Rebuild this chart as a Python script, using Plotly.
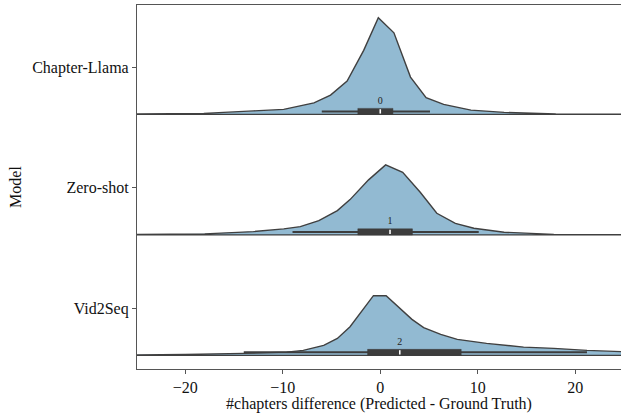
import plotly.graph_objects as go

# ---------------- data ----------------
models = ["Chapter-Llama", "Zero-shot", "Vid2Seq"]

# density curves: x = #chapters difference, y = density
cl_x = [-30, -25, -18.1, -13, -9.9, -6.8, -5.1, -3.4, -1.7, -0.2, 1.4, 3.1, 4.7, 6.5, 9.3, 12.7, 18, 25, 30]
cl_d = [0, 0.0003, 0.0017, 0.0058, 0.0083, 0.0193, 0.0322, 0.0555, 0.1067, 0.1610, 0.1360, 0.0622,
        0.0277, 0.0167, 0.0072, 0.0033, 0.0008, 0.0002, 0]

zs_x = [-30, -25, -18, -13, -9.9, -8.2, -6.3, -4.4, -3.1, -1.2, 0.55, 2.3, 4.1, 5.8, 7.7, 9.6, 12.7, 17.8, 25, 30]
zs_d = [0, 0.0003, 0.0017, 0.0055, 0.0100, 0.0138, 0.0238, 0.0405, 0.0588, 0.0917, 0.1167, 0.1043,
        0.0710, 0.0360, 0.0193, 0.0110, 0.0045, 0.0008, 0.0002, 0]

vs_x = [-30, -25, -20, -14, -9.6, -7.9, -5.8, -4.4, -3.1, -0.7, 0.6, 3.25, 4.45, 6.2, 7.9, 10.9, 14.7, 17.8, 21.2, 24.7, 30]
vs_d = [0, 0.0005, 0.0017, 0.0033, 0.0055, 0.0083, 0.0167, 0.0283, 0.0478, 0.0995, 0.0995, 0.0600,
        0.0462, 0.0350, 0.0267, 0.0200, 0.0138, 0.0117, 0.0083, 0.0062, 0.0025]

density_x = [cl_x, zs_x, vs_x]
density_y = [cl_d, zs_d, vs_d]

# box statistics
box_lower = [-6, -9, -14]
box_q1 = [-2.3, -2.3, -1.3]
box_median = [0, 1, 2]
box_q3 = [1.3, 3.3, 8.3]
box_upper = [5.1, 10.1, 21.2]

x_ticks = [-20, -10, 0, 10, 20]

# ---------------- styling ----------------
FILL = "#92BAD2"
EDGE = "#404040"
BOXC = "#3d3d3d"
FONT = "Liberation Serif"
SCALE = 4.98        # density -> y units
BASE_OFF = 0.393    # baseline below category tick
BOX_OFF = 0.025
BOX_W = 0.05
LABEL_OFF = 0.11

fig = go.Figure()

for i, name in enumerate(models):
    base = i + BASE_OFF
    xs = list(density_x[i])
    ys = [base - d * SCALE for d in density_y[i]]
    px = xs + xs[::-1]
    py = ys + [base] * len(xs)
    fig.add_trace(go.Scatter(
        x=px, y=py, mode="lines", fill="toself", fillcolor=FILL,
        line=dict(color=EDGE, width=1.4), hoverinfo="skip", showlegend=False))

for i, name in enumerate(models):
    c = i + BASE_OFF - BOX_OFF
    # whiskers
    fig.add_trace(go.Scatter(
        x=[box_lower[i], box_upper[i]], y=[c, c], mode="lines",
        line=dict(color=BOXC, width=2), showlegend=False, hoverinfo="skip"))
    # box (Q1..Q3)
    fig.add_trace(go.Scatter(
        x=[box_q1[i], box_q3[i], box_q3[i], box_q1[i], box_q1[i]],
        y=[c - BOX_W / 2, c - BOX_W / 2, c + BOX_W / 2, c + BOX_W / 2, c - BOX_W / 2],
        mode="lines", fill="toself", fillcolor=BOXC,
        line=dict(color=BOXC, width=0.5), showlegend=False, hoverinfo="skip"))
    # white median tick
    fig.add_trace(go.Scatter(
        x=[box_median[i], box_median[i]], y=[c - 0.018, c + 0.018],
        mode="lines", line=dict(color="white", width=1.6),
        showlegend=False, hoverinfo="skip"))
    # median label
    fig.add_trace(go.Scatter(
        x=[box_median[i]], y=[i + BASE_OFF - LABEL_OFF],
        mode="text", text=[str(box_median[i])],
        textfont=dict(family=FONT, size=10, color="#222"),
        textposition="middle center", showlegend=False, hoverinfo="skip"))

fig.update_layout(
    width=621, height=413,
    margin=dict(l=137, r=0, t=5, b=44),
    plot_bgcolor="white", paper_bgcolor="white",
    font=dict(family=FONT, size=16, color="#111"),
    showlegend=False,
)
fig.update_xaxes(
    range=[-24.95, 24.69], tickvals=x_ticks,
    ticks="outside", ticklen=4, tickcolor="#555", tickwidth=1,
    showline=True, linecolor="#555", linewidth=1.2, mirror=True,
    showgrid=False, zeroline=False,
    tickfont=dict(family=FONT, size=16, color="#111"),
    title=dict(text="#chapters difference (Predicted - Ground Truth)",
               font=dict(family=FONT, size=16, color="#111"), standoff=0),
)
fig.update_yaxes(
    range=[2.506, -0.515], tickvals=[0, 1, 2], ticktext=models,
    ticks="outside", ticklen=4, tickcolor="#555", tickwidth=1,
    showline=True, linecolor="#555", linewidth=1.2, mirror=False,
    showgrid=False, zeroline=False,
    tickfont=dict(family=FONT, size=16, color="#111"),
    title=dict(text="Model", font=dict(family=FONT, size=16, color="#111"), standoff=6),
)

fig.write_html("out.html", config={"displayModeBar": False},
               post_script="document.body.style.margin='0';")
